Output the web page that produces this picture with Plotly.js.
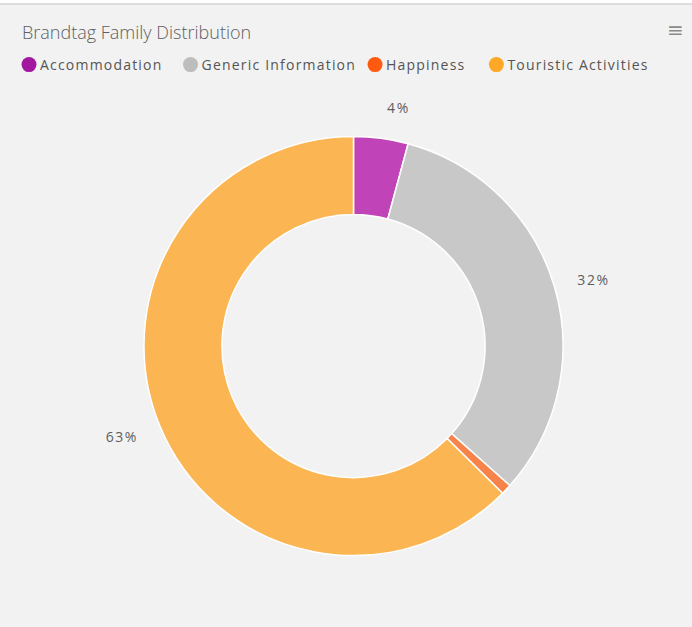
<!DOCTYPE html>
<html><head><meta charset="utf-8">
<script src="https://cdn.plot.ly/plotly-3.0.1.min.js"></script>
<style>
html,body{margin:0;padding:0;background:#ffffff;}
#chart{width:692px;height:627px;}
.legendtext{letter-spacing:1.2px; translate:-9px 0;}
.legend .traces:nth-of-type(2){translate:-6px 0;}
.legend .traces:nth-of-type(3){translate:-21px 0;}
.legend .traces:nth-of-type(4){translate:-24px 0;}
.pielayer text{letter-spacing:1.6px;}
</style></head><body><div id="chart"></div>
<script>
const categories = ['Accommodation', 'Generic Information', 'Happiness', 'Touristic Activities'];
const shares = [4.2, 32.4, 0.8, 62.6];
const sliceColors = ['#c044b8', '#c8c8c8', '#f7834a', '#fbb553'];
const legendColors = ['#a3169f', '#bdbdbd', '#ff5a0f', '#ffa726'];
const labelText = shares.map(v => v >= 2 ? Math.round(v) + '%' : '');

const W = 692, H = 627;
const cx = 353.5, cy = 346, R = 209.5, RL = 231;

function dom(r) {
  return {x: [(cx - r) / W, (cx + r) / W], y: [(H - cy - r) / H, (H - cy + r) / H]};
}

// transparent ring of the same data, used only to place the outside percentage labels a bit further out
const labelPie = {
  type: 'pie',
  labels: categories,
  values: shares,
  text: labelText,
  textinfo: 'text',
  textposition: 'outside',
  outsidetextfont: {family: 'Open Sans', size: 14, color: '#5e5e5e'},
  sort: false,
  direction: 'clockwise',
  rotation: 0,
  hole: 0.9,
  marker: {colors: categories.map(() => 'rgba(0,0,0,0)'), line: {width: 0}},
  showlegend: false,
  hoverinfo: 'skip',
  domain: dom(RL)
};

const pie = {
  type: 'pie',
  labels: categories,
  values: shares,
  textinfo: 'none',
  sort: false,
  direction: 'clockwise',
  rotation: 0,
  hole: 0.628,
  marker: {colors: sliceColors, line: {color: '#ffffff', width: 1.5}},
  showlegend: false,
  hoverinfo: 'label+percent',
  domain: dom(R)
};

const legendTraces = categories.map((c, i) => ({
  type: 'scatter', mode: 'markers', x: [null], y: [null], name: c,
  marker: {symbol: 'circle', size: 15, color: legendColors[i]},
  hoverinfo: 'skip'
}));

const layout = {
  width: W, height: H,
  margin: {l: 0, r: 0, t: 0, b: 0},
  paper_bgcolor: '#f2f2f2',
  plot_bgcolor: '#f2f2f2',
  xaxis: {visible: false},
  yaxis: {visible: false},
  title: {text: 'Brandtag Family Distribution', x: 22 / W, xanchor: 'left', y: 1 - 33 / H, yanchor: 'middle',
          font: {family: 'Open Sans', size: 18, color: '#606060', weight: 300}},
  showlegend: true,
  legend: {orientation: 'h', x: 9 / W, xanchor: 'left', y: 1 - 65 / H, yanchor: 'middle',
           font: {family: 'Open Sans', size: 14, color: '#555555'}, itemwidth: 30, bgcolor: 'rgba(0,0,0,0)', traceorder: 'normal'},
  shapes: [
    {type: 'rect', xref: 'paper', yref: 'paper', x0: 0, x1: 1, y0: 1 - 3 / H, y1: 1, fillcolor: '#ffffff', line: {width: 0}},
    {type: 'line', xref: 'paper', yref: 'paper', x0: 0, x1: 1, y0: 1 - 4 / H, y1: 1 - 4 / H, line: {color: '#d6d6d6', width: 1.5}}
  ],
  annotations: [
    {text: '≡', xref: 'paper', yref: 'paper', x: 675 / W, y: 1 - 30 / H, xanchor: 'center', yanchor: 'middle',
     showarrow: false, font: {family: 'DejaVu Sans', size: 20, color: '#8a8a8a'}}
  ]
};

Plotly.newPlot('chart', [labelPie, pie].concat(legendTraces), layout, {displayModeBar: false, responsive: false});
</script></body></html>
